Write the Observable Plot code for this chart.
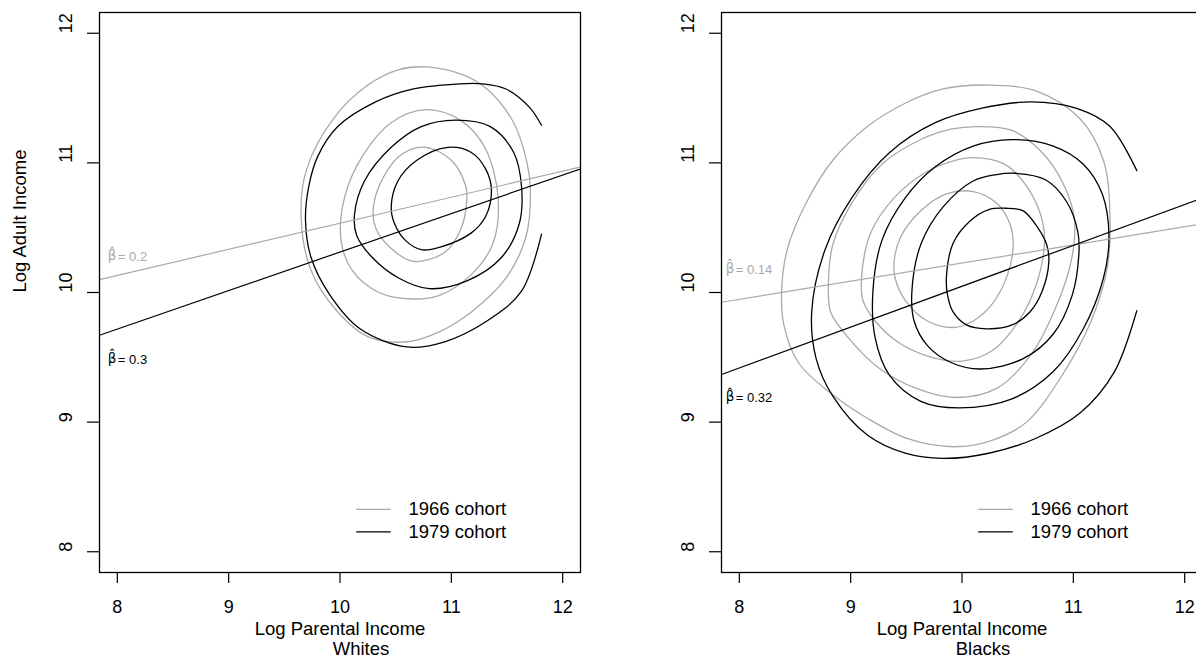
<!DOCTYPE html>
<html><head><meta charset="utf-8">
<script src="https://cdn.jsdelivr.net/npm/d3@7"></script>
<script src="https://cdn.jsdelivr.net/npm/@observablehq/plot@0.6"></script>
<style>
html,body{margin:0;padding:0;background:#fff;overflow:hidden;width:1196px;height:661px}
#wrap{position:relative;width:1196px;height:661px;overflow:hidden;background:#fff}
.panel{position:absolute;top:0;height:661px}
.panel svg{font-family:"Liberation Sans",Arial,Helvetica,sans-serif;overflow:visible;max-width:none!important;height:661px!important}
</style></head><body><div id="wrap"></div>
<script>
// ---------- data ----------
const xTicks = [8, 9, 10, 11, 12];
const yTicks = [8, 9, 10, 11, 12];
const cohorts = ["1966 cohort", "1979 cohort"];
const cohortColors = ["#a9a9a9", "#000000"];
const panelNames = ["Whites", "Blacks"];

// regression lines (intercept, slope) per cohort
const whitesIntercept = [8.524, 7.342];
const whitesSlope = [0.201, 0.297];
const blacksIntercept = [8.827, 6.898];
const blacksSlope = [0.14, 0.315];
// printed beta-hat labels
const whitesBeta = ["0.2", "0.3"];
const blacksBeta = ["0.14", "0.32"];
const whitesBetaY = [10.241, 9.450];
const blacksBetaY = [10.144, 9.153];

// density contours, Whites, 1966 cohort (closed)
const w66a = [[10.78,11.74],[11.10,11.68],[11.32,11.57],[11.56,11.31],[11.68,11.00],[11.71,10.79],[11.67,10.43],[11.49,10.11],[11.18,9.85],[10.90,9.70],[10.61,9.62],[10.25,9.66],[9.98,9.85],[9.74,10.17],[9.65,10.60],[9.70,10.95],[9.94,11.34],[10.25,11.60],[10.53,11.72]];
const w66b = [[10.77,11.41],[11.08,11.33],[11.30,11.12],[11.42,10.73],[11.37,10.37],[11.18,10.14],[10.90,9.98],[10.65,9.95],[10.35,10.00],[10.11,10.17],[10.01,10.40],[10.04,10.73],[10.20,11.05],[10.46,11.31]];
const w66c = [[10.77,11.12],[11.00,11.02],[11.13,10.82],[11.14,10.73],[11.09,10.50],[10.94,10.31],[10.66,10.24],[10.46,10.34],[10.32,10.50],[10.30,10.66],[10.39,10.89],[10.56,11.07]];
// Whites, 1979 cohort (outer one open)
const w79a = [[11.81,11.29],[11.70,11.43],[11.49,11.57],[11.28,11.61],[11.08,11.61],[10.66,11.57],[10.32,11.47],[9.98,11.28],[9.80,11.05],[9.72,10.82],[9.69,10.56],[9.74,10.27],[9.91,9.98],[10.18,9.72],[10.60,9.58],[10.94,9.62],[11.32,9.78],[11.63,10.01],[11.81,10.45]];
const w79b = [[11.04,11.33],[11.35,11.28],[11.56,11.08],[11.63,10.82],[11.61,10.53],[11.45,10.27],[11.14,10.09],[10.80,10.03],[10.53,10.11],[10.29,10.27],[10.15,10.44],[10.13,10.60],[10.22,10.86],[10.46,11.12],[10.73,11.28]];
const w79c = [[10.97,11.12],[11.18,11.08],[11.31,10.95],[11.36,10.79],[11.31,10.59],[11.18,10.46],[10.90,10.35],[10.73,10.33],[10.59,10.40],[10.49,10.53],[10.46,10.66],[10.52,10.86],[10.69,11.02]];

// Blacks, 1966 cohort (closed)
const b66a = [[10.24,11.60],[10.68,11.55],[11.06,11.34],[11.27,11.02],[11.33,10.56],[11.30,10.17],[11.16,9.78],[10.92,9.39],[10.58,9.00],[10.27,8.86],[9.93,8.81],[9.52,8.87],[9.15,9.03],[8.81,9.23],[8.53,9.46],[8.40,9.75],[8.38,10.01],[8.43,10.33],[8.60,10.69],[8.84,11.02],[9.15,11.28],[9.49,11.46],[9.83,11.57]];
const b66b = [[10.14,11.28],[10.45,11.25],[10.72,11.08],[10.92,10.82],[11.01,10.56],[10.98,10.24],[10.84,9.88],[10.62,9.52],[10.31,9.26],[9.95,9.19],[9.59,9.26],[9.25,9.42],[8.98,9.65],[8.82,9.85],[8.80,10.04],[8.84,10.37],[9.01,10.69],[9.28,10.99],[9.63,11.18],[9.90,11.26]];
const b66c = [[10.10,11.04],[10.38,10.99],[10.58,10.82],[10.72,10.56],[10.74,10.37],[10.67,10.07],[10.51,9.78],[10.27,9.55],[10.00,9.47],[9.69,9.51],[9.42,9.62],[9.22,9.78],[9.11,9.94],[9.10,10.14],[9.18,10.46],[9.39,10.73],[9.66,10.92],[9.90,11.01]];
const b66d = [[10.09,10.78],[10.31,10.69],[10.43,10.53],[10.46,10.37],[10.41,10.14],[10.27,9.91],[10.10,9.78],[9.92,9.73],[9.69,9.78],[9.49,9.94],[9.40,10.11],[9.39,10.24],[9.45,10.43],[9.63,10.63],[9.86,10.76]];
// Blacks, 1979 cohort (outer one open)
const b79a = [[11.57,10.94],[11.33,11.28],[11.03,11.42],[10.62,11.47],[10.17,11.42],[9.76,11.31],[9.35,11.08],[9.01,10.73],[8.77,10.33],[8.65,9.85],[8.69,9.49],[8.84,9.20],[9.15,8.90],[9.49,8.76],[9.83,8.72],[10.24,8.76],[10.65,8.87],[11.06,9.07],[11.37,9.39],[11.57,9.86]];
const b79b = [[10.45,11.18],[10.82,11.13],[11.09,10.99],[11.26,10.76],[11.32,10.43],[11.27,10.11],[11.09,9.72],[10.82,9.39],[10.45,9.18],[9.97,9.11],[9.63,9.16],[9.35,9.36],[9.22,9.65],[9.20,10.01],[9.28,10.40],[9.49,10.73],[9.76,10.97],[10.10,11.13]];
const b79c = [[10.48,10.92],[10.75,10.87],[10.94,10.70],[11.04,10.47],[11.05,10.30],[10.99,9.98],[10.82,9.68],[10.55,9.49],[10.17,9.41],[9.90,9.46],[9.69,9.59],[9.57,9.78],[9.55,10.01],[9.63,10.37],[9.83,10.66],[10.10,10.86],[10.31,10.91]];
const b79d = [[10.39,10.65],[10.55,10.63],[10.68,10.50],[10.76,10.37],[10.78,10.24],[10.72,10.01],[10.61,9.85],[10.45,9.75],[10.22,9.72],[10.04,9.75],[9.92,9.85],[9.87,9.98],[9.86,10.12],[9.92,10.38],[10.07,10.55],[10.24,10.64]];

// ---------- build ----------
const xDomain = [7.84, 12.16];
const yDomain = [7.84, 12.16];
const FONT = 18.5;

function rows(list) {
  const out = [];
  list.forEach(([pts, c, id]) => pts.forEach(([x, y]) => out.push({x, y, id, color: cohortColors[c]})));
  return out;
}

function panel(cfg) {
  const closed = rows(cfg.closed);
  const open = rows(cfg.open);
  const reg = [];
  cfg.intercept.forEach((a, i) => xDomain.forEach(x => reg.push({x, y: a + cfg.slope[i] * x, id: i, color: cohortColors[i]})));
  const betas = cfg.beta.map((b, i) => ({y: cfg.betaY[i], text: "= " + b, color: cohortColors[i]}));
  const legendRows = cohorts.map((c, i) => ({label: c, color: cohortColors[i], y: [8.327, 8.154][i]}));
  const bx = cfg.betaX;
  const marks = [
    Plot.line(closed, {x: "x", y: "y", z: "id", stroke: "color", strokeWidth: 1.3, curve: "catmull-rom-closed"}),
    Plot.line(open, {x: "x", y: "y", z: "id", stroke: "color", strokeWidth: 1.3, curve: "catmull-rom"}),
    Plot.line(reg, {x: "x", y: "y", z: "id", stroke: "color", strokeWidth: 1.2, clip: true}),
    Plot.frame({stroke: "#000", strokeWidth: 1.3}),
    Plot.axisX({ticks: xTicks, tickSize: 11, tickPadding: 17, fontSize: 18, tickFormat: d => String(d), label: null, strokeWidth: 1.2}),
    Plot.axisY({ticks: yTicks, tickSize: 12, tickFormat: () => "", label: null, strokeWidth: 1.2}),
    Plot.text(yTicks, {y: d => d, text: d => String(d), frameAnchor: "left", dx: -33, rotate: -90, fontSize: 18, fill: "#000"}),
    // beta-hat labels
    Plot.text(betas, {x: bx, y: "y", text: () => "\u03B2\u0302", fill: "color", textAnchor: "start", lineAnchor: "bottom", dy: -1, fontSize: 13.5, fontFamily: "DejaVu Sans"}),
    Plot.text(betas, {x: bx, y: "y", text: "text", fill: "color", textAnchor: "start", lineAnchor: "bottom", dx: 10, fontSize: 13}),
    // legend
    Plot.ruleY(legendRows, {y: "y", x1: 10.15, x2: 10.46, stroke: "color", strokeWidth: 1.2}),
    Plot.text(legendRows, {x: 10.615, y: "y", text: "label", textAnchor: "start", fontSize: FONT, fill: "#000"}),
    // axis titles
    Plot.text(["Log Parental Income"], {frameAnchor: "bottom", dy: 62, text: d => d, fontSize: FONT, fill: "#000"}),
    Plot.text([cfg.name], {frameAnchor: "bottom", dy: 82, dx: 21, text: d => d, fontSize: FONT, fill: "#000"})
  ];
  if (cfg.ylabel) marks.push(Plot.text([cfg.ylabel], {frameAnchor: "left", dx: -79, rotate: -90, text: d => d, fontSize: FONT, fill: "#000"}));
  return Plot.plot({
    width: cfg.width, height: 661,
    marginLeft: cfg.marginLeft, marginRight: 18, marginTop: 12, marginBottom: 89,
    x: {domain: xDomain, label: null},
    y: {domain: yDomain, label: null},
    color: {type: "identity"},
    style: {fontFamily: '"Liberation Sans", Arial, Helvetica, sans-serif', background: "transparent", overflow: "visible", maxWidth: "none"},
    marks
  });
}

const left = panel({
  name: panelNames[0], width: 598, marginLeft: 99, ylabel: "Log Adult Income", betaX: 7.915,
  closed: [[w66a,0,"a"],[w66b,0,"b"],[w66c,0,"c"],[w79b,1,"e"],[w79c,1,"f"]],
  open: [[w79a,1,"d"]],
  intercept: whitesIntercept, slope: whitesSlope, beta: whitesBeta, betaY: whitesBetaY
});
const right = panel({
  name: panelNames[1], width: 622, marginLeft: 123, ylabel: null, betaX: 7.878,
  closed: [[b66a,0,"a"],[b66b,0,"b"],[b66c,0,"c"],[b66d,0,"d"],[b79b,1,"f"],[b79c,1,"g"],[b79d,1,"h"]],
  open: [[b79a,1,"e"]],
  intercept: blacksIntercept, slope: blacksSlope, beta: blacksBeta, betaY: blacksBetaY
});
const wrap = document.getElementById("wrap");
const d1 = document.createElement("div"); d1.className = "panel"; d1.style.left = "0px"; d1.style.width = "598px"; d1.appendChild(left);
const d2 = document.createElement("div"); d2.className = "panel"; d2.style.left = "598px"; d2.style.width = "622px"; d2.appendChild(right);
wrap.appendChild(d1); wrap.appendChild(d2);
</script></body></html>
